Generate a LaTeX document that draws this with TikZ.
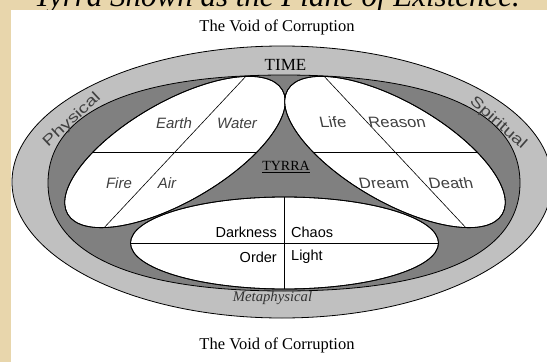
\documentclass[tikz,border=0pt]{standalone}
\usepackage{fontspec}
\setmainfont{Liberation Serif}
\setsansfont{Liberation Sans}
\newfontfamily\rslant[FakeSlant=-0.22,FakeStretch=1.1]{Liberation Sans}
\newfontfamily\widesans[FakeStretch=1.3]{Liberation Sans}
\definecolor{parch}{RGB}{232,214,172}
\definecolor{lgray}{RGB}{192,192,192}
\definecolor{dgray}{RGB}{128,128,128}
\begin{document}
\begin{tikzpicture}[x=1pt,y=-1pt,
  outl/.style={draw=black, line width=0.8pt},
  divl/.style={draw=black, line width=0.6pt},
  petaltxt/.style={inner sep=0pt, text=black!75, font=\sffamily\itshape\fontsize{15}{15}\selectfont},
  rpetaltxt/.style={inner sep=0pt, text=black!75, font=\rslant\fontsize{15}{15}\selectfont},
  bottxt/.style={inner sep=0pt, font=\sffamily\fontsize{14.5}{14.5}\selectfont},
  bandtxt/.style={inner sep=0pt, text=black!75, font=\widesans\fontsize{15}{15}\selectfont},
  voidtxt/.style={inner sep=0pt, font=\rmfamily\fontsize{16.5}{16.5}\selectfont}]
\useasboundingbox (0,0) rectangle (547,362);
\begin{scope}
\clip (0,0) rectangle (547,362);
\fill[parch] (0,0) rectangle (547,362);
\node[anchor=base, inner sep=0pt, font=\rmfamily\itshape\fontsize{31}{31}\selectfont] (title) at (277,6) {Tyrra Shown as the Plane of Existence.};
\fill[white] (11,10) rectangle (547,362);
% outer band
\filldraw[fill=lgray, outl] (282,182) ellipse [x radius=270, y radius=136];
% inner dark region
\filldraw[fill=dgray, outl] (48,183) .. controls (48,112.8) and (130.6,75) .. (284,75)
  .. controls (437.4,75) and (520,112.8) .. (520,183)
  .. controls (520,253.2) and (437.4,291) .. (284,291)
  .. controls (130.6,291) and (48,253.2) .. (48,183) -- cycle;
% left petal
\filldraw[fill=white, outl, shift={(175,152)}, rotate=30] (0,0) ellipse [x radius=124, y radius=50];
\begin{scope}
\clip[shift={(175,152)}, rotate=30] (0,0) ellipse [x radius=124, y radius=50];
\draw[divl] (40,152) -- (320,152);
\draw[divl] (28,309) -- (322,-5);
\end{scope}
\draw[outl, shift={(175,152)}, rotate=30] (0,0) ellipse [x radius=124, y radius=50];
% right petal
\filldraw[fill=white, outl, shift={(395,152)}, rotate=-30] (0,0) ellipse [x radius=124, y radius=50];
\begin{scope}
\clip[shift={(395,152)}, rotate=-30] (0,0) ellipse [x radius=124, y radius=50];
\draw[divl] (250,152) -- (530,152);
\draw[divl] (248,-5) -- (542,309);
\end{scope}
\draw[outl, shift={(395,152)}, rotate=-30] (0,0) ellipse [x radius=124, y radius=50];
% bottom petal
\filldraw[fill=white, outl] (284.5,243) ellipse [x radius=154, y radius=46];
\begin{scope}
\clip (284.5,243) ellipse [x radius=154, y radius=46];
\draw[divl] (120,243) -- (450,243);
\draw[divl] (284.5,190) -- (284.5,300);
\end{scope}
\draw[outl] (284.5,243) ellipse [x radius=154, y radius=46];
% texts
\node[petaltxt] (earth) at (174,123) {Earth};
\node[petaltxt] (water) at (237,123) {Water};
\node[petaltxt] (fire) at (119,183) {Fire};
\node[petaltxt] (air) at (167,183) {Air};
\node[rpetaltxt] (life) at (334,122) {Life};
\node[rpetaltxt] (reason) at (398,122) {Reason};
\node[rpetaltxt] (dream) at (385,183) {Dream};
\node[rpetaltxt] (death) at (452,183) {Death};
\node[bottxt, anchor=east] (darkness) at (277,232) {Darkness};
\node[bottxt, anchor=west] (chaos) at (291,232) {Chaos};
\node[bottxt, anchor=east] (order) at (277,257) {Order};
\node[bottxt, anchor=west] (light) at (291,257) {Light};
\node[inner sep=0pt, font=\rmfamily\fontsize{17}{17}\selectfont] (time) at (285.5,65) {TIME};
\node[inner sep=0pt, font=\rmfamily\fontsize{14}{14}\selectfont] (tyrra) at (286,167) {\underline{TYRRA}};
\node[bandtxt, rotate=43] (physical) at (72,120) {Physical};
\node[bandtxt, rotate=-41.5] (spiritual) at (498,123) {Spiritual};
\node[inner sep=0pt, text=black!80, font=\rmfamily\itshape\fontsize{14.7}{14.7}\selectfont] (meta) at (272.5,298) {Metaphysical};
\node[voidtxt] (voidtop) at (277,27) {The Void of Corruption};
\node[voidtxt] (voidbot) at (277,345) {The Void of Corruption};
\end{scope}
\end{tikzpicture}
\end{document}
